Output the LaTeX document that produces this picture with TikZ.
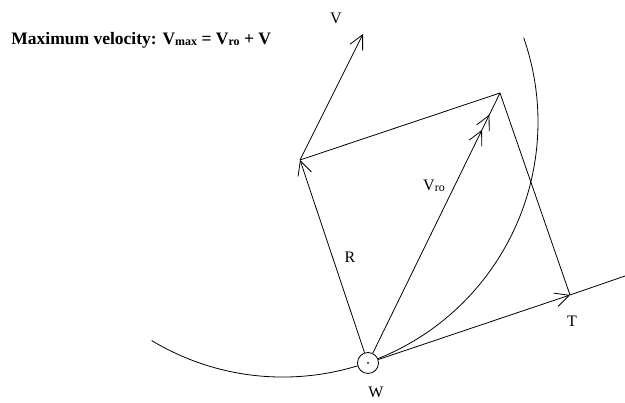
\documentclass[tikz,border=0pt]{standalone}
\usepackage{fontspec}
\setmainfont{Liberation Serif}
\usetikzlibrary{arrows.meta,decorations.markings}
\newcommand\subtx[1]{\raisebox{-1pt}{\fontsize{12}{12}\selectfont #1}}
\begin{document}
\begin{tikzpicture}[x=1pt,y=1pt,
  line width=0.8pt,
  barb/.tip={Straight Barb[length=14pt,width=14pt,line width=0.8pt]},
  tip/.style={-{barb}},
  lbl/.style={font=\fontsize{16}{16}\selectfont, inner sep=0pt},
  ttl/.style={font=\bfseries\fontsize{17.5}{17.5}\selectfont, inner sep=0pt, anchor=base west},
  dbl/.style={postaction={decorate}, decoration={markings,
     mark=at position -41pt with {\arrow{barb}},
     mark=at position -24pt with {\arrow{barb}}}}
]
\useasboundingbox (0,0) rectangle (625,403);
% big circular arc
\draw (283,281) ++(239:255) arc[start angle=239, end angle=379.3, radius=255];
% point W
\node[circle, draw, fill=white, minimum size=21pt, inner sep=0pt] (W) at (368,40) {};
\fill (W.center) circle (1pt);
\coordinate (P1) at (300,243);
\coordinate (P2) at (500,310);
\coordinate (Vt) at (363,369);
\coordinate (T) at (570,108);
\coordinate (Te) at (625,127);
% vectors
\draw[tip] (W) -- (P1);
\draw[tip] (P1) -- (Vt);
\draw (P1) -- (P2);
\draw (P2) -- (T);
\draw[tip] (W) -- (T);
\draw (T) -- (Te);
\draw[dbl] (W) -- (P2);
% labels
\node[lbl] (lV) at (336,385) {V};
\node[lbl] (lR) at (350,146) {R};
\node[lbl] (lVro) at (434,217) {V\subtx{ro}};
\node[lbl] (lT) at (572,82) {T};
\node[lbl] (lW) at (376,11) {W};
\node[ttl] (title) at (11,358) {Maximum velocity: V\subtx{max} = V\subtx{ro} + V};
\end{tikzpicture}
\end{document}
